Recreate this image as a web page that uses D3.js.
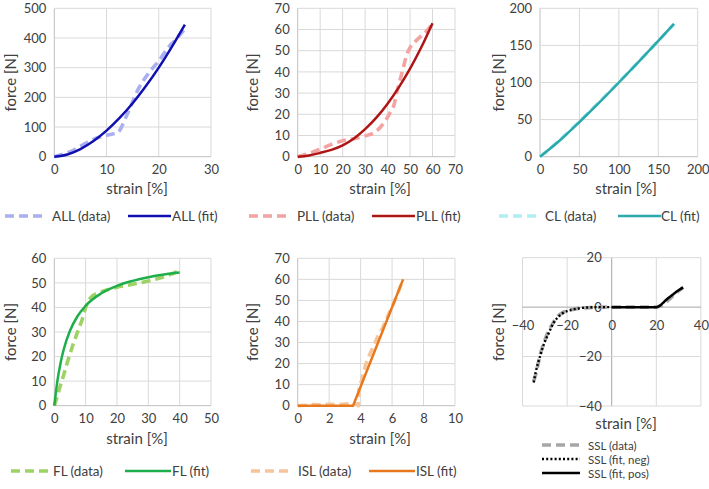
<!DOCTYPE html>
<html><head><meta charset="utf-8">
<script src="https://cdn.jsdelivr.net/npm/d3@7"></script>
<style>
body{margin:0;background:#fff}
svg{display:block}
text{font-family:Lato,"Noto Sans",sans-serif;fill:#404040}
</style>
</head><body>
<svg id="c" width="709" height="489"></svg>
<script>
// ---------- data (strain [%], force [N]) ----------
const ALL_data = [[0,0],[2,10],[4,25],[5,35],[6,45],[8,62],[10,72],[11,76],[12,80],[12.5,88],[13,105],[13.5,125],[14,145],[15,185],[16,225],[17,255],[18,280],[19,302],[20,322],[21,348],[22,372],[23,390],[24,410],[25,430]];
const ALL_fit  = [[0,0],[2.5,7.6],[5,25.8],[7.5,52.9],[10,88],[12.5,130.6],[15,180],[17.5,237],[20,300],[22.5,370],[25,445]];

const PLL_data = [[0,0],[5,1.5],[10,3.5],[15,5.8],[20,7.5],[25,8.5],[30,9.8],[35,12],[38,15.5],[41,20.5],[43,25],[44,30],[45.5,36],[47,42],[48.5,48],[50,51.5],[52,54],[55,57],[58,60],[60,63]];
const PLL_fit  = [[0,0],[5,0.6],[10,1.8],[15,3.2],[20,5.3],[25,8.6],[30,13],[35,18.4],[40,25],[45,32.7],[50,41.5],[55,51.6],[60,63]];

const CL_data = [[0,0],[25,22.5],[50,47.5],[75,73.5],[100,100.5],[125,128],[150,156],[170,179]];
const CL_fit  = [[0,0],[25,21.9],[50,46.8],[75,72.9],[100,100],[125,127.7],[150,156],[170,179]];

const FL_data = [[0,0],[1,4],[2,8.5],[3,12.5],[4,17],[5,21],[6,25],[7,28.5],[8,32],[9,35.5],[10,40],[11,43],[12,44.5],[13,45.3],[14,45.8],[16,46.8],[18,47.6],[20,48.2],[25,49.4],[30,50.8],[35,52.5],[40,55]];
const FL_fit  = [[0,0],[1,10.2],[2,17.4],[3,22.9],[5,30.5],[7.5,36.6],[10,40.7],[15,45.75],[20,48.8],[25,50.8],[30,52.3],[35,53.4],[40,54.2]];

const ISL_data = [[0,0],[0.5,0.2],[1,0.6],[1.5,0.4],[2,0.7],[2.5,0.5],[3,0.8],[3.4,1],[3.7,0.8],[3.85,0],[3.9,8],[4.1,13],[4.3,19],[4.5,23],[4.8,28],[5.1,33],[5.4,37],[5.7,42],[6,47],[6.3,52],[6.7,60]];
const ISL_fit  = [[0,0],[3.52,0],[6.7,60]];

const SSL_data   = [[-35,-30],[-34,-27],[-33,-23],[-32,-19],[-31,-16],[-30,-13.5],[-29,-11],[-28,-9],[-27,-7.5],[-26,-6],[-25,-4.5],[-24,-3.5],[-22,-2.2],[-20,-1.5],[-15,-0.5],[-10,-0.2],[0,0],[10,0],[20,0],[22,0.5],[25,2.5],[28,5],[32,8]];
const SSL_fitNeg = [[-35,-30.5],[-34,-26],[-33,-22.5],[-32,-19.5],[-31,-16.5],[-30,-14],[-29,-12],[-28,-10],[-27,-8],[-26,-6.3],[-25,-5],[-24,-4],[-23,-3.2],[-22,-2.5],[-20,-1.6],[-18,-1.1],[-16,-0.7],[-14,-0.4],[-12,-0.2],[-10,-0.1],[-5,0],[0,0]];
const SSL_fitPos = [[0,0],[20,0],[21,0.3],[22,0.9],[23,1.7],[24,2.6],[25,3.4],[26,4.1],[27,4.8],[28,5.5],[29,6.2],[30,6.8],[31,7.4],[32,8]];

// ---------- ticks ----------
const ALL_xTicks = [0,10,20,30],            ALL_yTicks = [0,100,200,300,400,500];
const PLL_xTicks = [0,10,20,30,40,50,60,70], PLL_yTicks = [0,10,20,30,40,50,60,70];
const CL_xTicks  = [0,50,100,150,200],       CL_yTicks  = [0,50,100,150,200];
const FL_xTicks  = [0,10,20,30,40,50],       FL_yTicks  = [0,10,20,30,40,50,60];
const ISL_xTicks = [0,2,4,6,8,10],           ISL_yTicks = [0,10,20,30,40,50,60,70];
const SSL_xTicks = [-40,-20,0,20,40],        SSL_yTicks = [-40,-20,0,20];

// ---------- labels ----------
const xTitle = "strain [%]", yTitle = "force [N]";

const svg = d3.select("#c");
const GRID = "#d9d9d9", AXIS = "#bfbfbf";

const styles = {
  data:  (c) => ({stroke:c, width:3.6, dash:"9,5", cap:"butt"}),
  fit:   (c) => ({stroke:c, width:2.5, dash:null, cap:"butt"}),
  dot:   (c) => ({stroke:c, width:2.4, dash:"2,2.2", cap:"butt"})
};

function applyStyle(sel, st){
  sel.attr("fill","none").attr("stroke",st.stroke).attr("stroke-width",st.width)
     .attr("stroke-linecap",st.cap).attr("stroke-linejoin","round");
  if (st.dash) sel.attr("stroke-dasharray",st.dash);
}

function panel(cfg){
  const x = d3.scaleLinear().domain(cfg.xDomain).range([cfg.left,cfg.right]);
  const y = d3.scaleLinear().domain(cfg.yDomain).range([cfg.bottom,cfg.top]);
  const g = svg.append("g");

  // gridlines
  g.selectAll(".vg").data(cfg.xTicks).join("line")
    .attr("x1",d=>x(d)).attr("x2",d=>x(d)).attr("y1",cfg.top).attr("y2",cfg.bottom)
    .attr("stroke",d=> (cfg.cross && d===0) ? "#a6a6a6" : (d===cfg.xDomain[0] && !cfg.cross ? AXIS : GRID))
    .attr("stroke-width",1);
  g.selectAll(".hg").data(cfg.yTicks).join("line")
    .attr("y1",d=>y(d)).attr("y2",d=>y(d)).attr("x1",cfg.left).attr("x2",cfg.right)
    .attr("stroke",d=> (cfg.cross && d===0) ? "#a6a6a6" : (d===cfg.yDomain[0] && !cfg.cross ? AXIS : GRID))
    .attr("stroke-width",1);

  // axes labels
  const ax0 = cfg.cross ? y(0) : cfg.bottom;
  const ay0 = cfg.cross ? x(0) : cfg.left;
  const xa = g.append("g").attr("transform",`translate(0,${ax0})`)
    .call(d3.axisBottom(x).tickValues(cfg.xTicks).tickSize(0).tickPadding(cfg.cross?14:8).tickFormat(d3.format("d")));
  const ya = g.append("g").attr("transform",`translate(${ay0},0)`)
    .call(d3.axisLeft(y).tickValues(cfg.yTicks).tickSize(0).tickPadding(cfg.cross?10:8).tickFormat(d3.format("d")));
  [xa,ya].forEach(a=>{
    a.select(".domain").remove();
    a.selectAll("text").attr("font-size",13).attr("fill","#404040").style("font-family","Lato");
  });

  // series
  cfg.series.forEach(s=>{
    const line = d3.line().x(d=>x(d[0])).y(d=>y(d[1])).curve(s.curve || d3.curveMonotoneX);
    const p = g.append("path").datum(s.values).attr("d",line);
    applyStyle(p, s.style);
  });

  // titles
  g.append("text").attr("x",cfg.xTitleX).attr("y",cfg.xTitleY).attr("text-anchor","middle")
    .attr("font-size",15).text(xTitle);
  g.append("text").attr("transform",`translate(${cfg.yTitleX},${(cfg.top+cfg.bottom)/2}) rotate(-90)`)
    .attr("text-anchor","middle").attr("dominant-baseline","central").attr("font-size",15).text(yTitle);

  // legend
  cfg.legend.forEach(L=>{
    const s = cfg.series[L.i];
    const ln = g.append("line").attr("x1",L.x1).attr("x2",L.x2).attr("y1",L.y).attr("y2",L.y);
    applyStyle(ln, s.style);
    g.append("text").attr("x",L.tx).attr("y",L.y).attr("dominant-baseline","central")
      .attr("font-size",L.fs || 13.5).text(s.name);
  });
}

const C = {
  ALL:["#a9aff0","#1010b0"], PLL:["#f4a3a3","#b01515"], CL:["#b0eef2","#2aa8ab"],
  FL:["#9ed264","#1fae4c"], ISL:["#f6c69a","#e8781e"]
};

panel({left:54.3,right:211,top:8.3,bottom:156.7,xDomain:[0,30],yDomain:[0,500],
  xTicks:ALL_xTicks,yTicks:ALL_yTicks,xTitleX:137,xTitleY:194,yTitleX:9.5,
  series:[{name:"ALL (data)",values:ALL_data,style:styles.data(C.ALL[0])},
          {name:"ALL (fit)",values:ALL_fit,style:styles.fit(C.ALL[1])}],
  legend:[{i:0,x1:5,x2:44,y:216,tx:52},{i:1,x1:128,x2:171,y:216,tx:172}]});

panel({left:297.7,right:455,top:8.3,bottom:156.7,xDomain:[0,70],yDomain:[0,70],
  xTicks:PLL_xTicks,yTicks:PLL_yTicks,xTitleX:380,xTitleY:194,yTitleX:252,
  series:[{name:"PLL (data)",values:PLL_data,style:styles.data(C.PLL[0])},
          {name:"PLL (fit)",values:PLL_fit,style:styles.fit(C.PLL[1])}],
  legend:[{i:0,x1:249,x2:289,y:216,tx:297},{i:1,x1:372,x2:415,y:216,tx:416}]});

panel({left:540,right:697.7,top:8.3,bottom:156.7,xDomain:[0,200],yDomain:[0,200],
  xTicks:CL_xTicks,yTicks:CL_yTicks,xTitleX:626,xTitleY:194,yTitleX:497.5,
  series:[{name:"CL (data)",values:CL_data,style:styles.data(C.CL[0])},
          {name:"CL (fit)",values:CL_fit,style:styles.fit(C.CL[1])}],
  legend:[{i:0,x1:499,x2:537,y:216,tx:545},{i:1,x1:618,x2:661,y:216,tx:661}]});

panel({left:54.3,right:211,top:258.3,bottom:405.7,xDomain:[0,50],yDomain:[0,60],
  xTicks:FL_xTicks,yTicks:FL_yTicks,xTitleX:137,xTitleY:444,yTitleX:9.5,
  series:[{name:"FL (data)",values:FL_data,style:styles.data(C.FL[0])},
          {name:"FL (fit)",values:FL_fit,style:styles.fit(C.FL[1])}],
  legend:[{i:0,x1:11,x2:48,y:471,tx:53},{i:1,x1:125,x2:171,y:471,tx:172}]});

panel({left:297.7,right:455,top:258.3,bottom:405.7,xDomain:[0,10],yDomain:[0,70],
  xTicks:ISL_xTicks,yTicks:ISL_yTicks,xTitleX:380,xTitleY:444,yTitleX:252,
  series:[{name:"ISL (data)",values:ISL_data,style:styles.data(C.ISL[0]),curve:d3.curveLinear},
          {name:"ISL (fit)",values:ISL_fit,style:styles.fit(C.ISL[1]),curve:d3.curveLinear}],
  legend:[{i:0,x1:251,x2:289,y:471,tx:298},{i:1,x1:369,x2:415,y:471,tx:416}]});

panel({left:522.5,right:700.9,top:257.7,bottom:406,xDomain:[-40,40],yDomain:[-40,20],cross:true,
  xTicks:SSL_xTicks,yTicks:SSL_yTicks,xTitleX:626,xTitleY:429,yTitleX:497.5,
  series:[{name:"SSL (data)",values:SSL_data,style:{stroke:"#a6a6a6",width:3.6,dash:"9,5",cap:"butt"}},
          {name:"SSL (fit, neg)",values:SSL_fitNeg,style:styles.dot("#000")},
          {name:"SSL (fit, pos)",values:SSL_fitPos,style:styles.fit("#000")}],
  legend:[{i:0,x1:542,x2:580,y:445,tx:588,fs:11.5},{i:1,x1:542,x2:580,y:459,tx:588,fs:11.5},{i:2,x1:542,x2:580,y:473,tx:588,fs:11.5}]});
</script>
</body></html>
